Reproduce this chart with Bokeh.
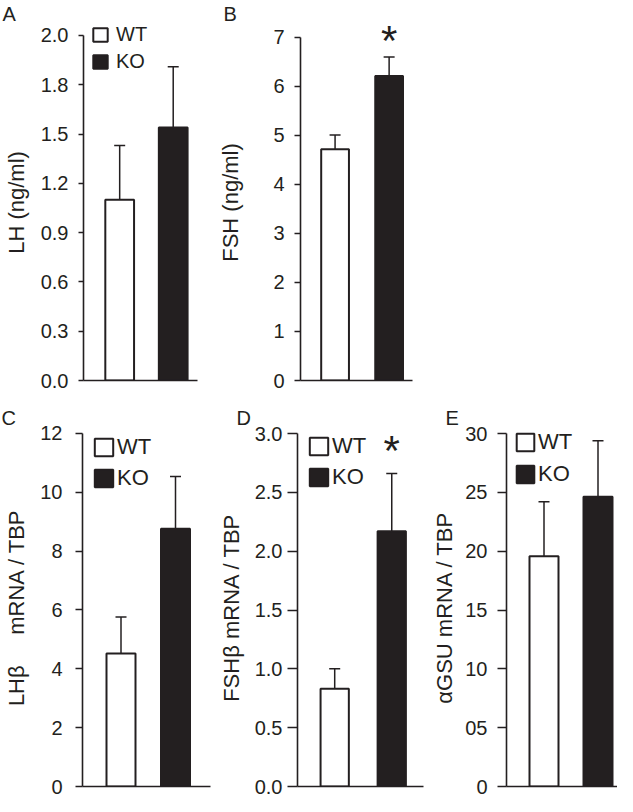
from bokeh.plotting import figure
from bokeh.models import (Range1d, Legend, LegendItem, Whisker, TeeHead,
                          FixedTicker, ColumnDataSource)
from bokeh.transform import factor_cmap
from bokeh.layouts import row, column
from bokeh.core.properties import value
from bokeh.embed import file_html
from bokeh.resources import INLINE

# ---------------- data ----------------
groups = ["WT", "KO"]

lh_mean = [1.10, 1.54]
lh_err = [0.33, 0.37]
fsh_mean = [4.72, 6.21]
fsh_err = [0.29, 0.39]
lhb_mean = [4.52, 8.76]
lhb_err = [1.24, 1.78]
fshb_mean = [0.83, 2.17]
fshb_err = [0.17, 0.49]
agsu_mean = [19.56, 24.62]
agsu_err = [4.64, 4.76]

sig_fsh = [False, True]
sig_fshb = [False, True]
no_sig = [False, False]

ticks_A = [0, 0.3, 0.6, 0.9, 1.2, 1.5, 1.8, 2.1]
labels_A = ["0.0", "0.3", "0.6", "0.9", "1.2", "1.5", "1.8", "2.0"]
ticks_B = [0, 1, 2, 3, 4, 5, 6, 7]
labels_B = ["0", "1", "2", "3", "4", "5", "6", "7"]
ticks_C = [0, 2, 4, 6, 8, 10, 12]
labels_C = ["0", "2", "4", "6", "8", "10", "12"]
ticks_D = [0, 0.5, 1.0, 1.5, 2.0, 2.5, 3.0]
labels_D = ["0.0", "0.5", "1.0", "1.5", "2.0", "2.5", "3.0"]
ticks_E = [0, 5, 10, 15, 20, 25, 30]
labels_E = ["0", "05", "10", "15", "20", "25", "30"]

NB = "\u00a0"
ylabel_A = "LH (ng/ml)"
ylabel_B = "FSH (ng/ml)"
ylabel_C = "LHβ" + NB * 5 + "mRNA / TBP"
ylabel_D = "FSHβ mRNA / TBP"
ylabel_E = "αGSU mRNA / TBP"

INK = "#231f20"
FONT = "Liberation Sans"
PALETTE = ["white", INK]

# ---------------- layout geometry (layout pixels) ----------------
GEO = {
    "A": dict(fig_left=0, fig_top=0, w=215, h=390, top_border=23, axis_x=82, frame_right=197, y0=380,
              ytop_px=34, wt_c=118.5, ko_c=172.5, bar_w=29, tick_out=5, lab_stand=10, axl_stand=9,
              letter_x=1, legend=(90, 27), glyph=(18, 17), pitch=26.5, leg_font=20, leg_stand=7,
              star_dy=0),
    "B": dict(fig_left=215, fig_top=0, w=402, h=390, top_border=23, axis_x=297, frame_right=412, y0=382,
              ytop_px=36, wt_c=332.5, ko_c=388, bar_w=28.5, tick_out=6, lab_stand=10, axl_stand=27,
              letter_x=220, legend=None, star_dy=-16),
    "C": dict(fig_left=0, fig_top=390, w=215, h=406, top_border=38, axis_x=82, frame_right=210, y0=787,
              ytop_px=433, wt_c=120.5, ko_c=175, bar_w=29, tick_out=7, lab_stand=13, axl_stand=8,
              letter_x=1, legend=(92, 439), glyph=(23, 22), pitch=30, leg_font=22, leg_stand=2,
              star_dy=0),
    "D": dict(fig_left=215, fig_top=390, w=210, h=406, top_border=38, axis_x=296, frame_right=423, y0=786,
              ytop_px=433, wt_c=333.5, ko_c=391, bar_w=28.5, tick_out=10, lab_stand=5, axl_stand=8,
              letter_x=235, legend=(306, 437), glyph=(23, 22), pitch=30, leg_font=22, leg_stand=2,
              star_dy=-23),
    "E": dict(fig_left=425, fig_top=390, w=192, h=406, top_border=38, axis_x=506, frame_right=617, y0=786,
              ytop_px=433, wt_c=543.5, ko_c=597.5, bar_w=29, tick_out=9, lab_stand=10, axl_stand=5,
              letter_x=445, legend=(514, 433), glyph=(22, 22), pitch=31, leg_font=22, leg_stand=2,
              star_dy=0),
}


def panel(letter, ylabel, means, errs, ticks, tlabels, sig):
    g = GEO[letter]
    unit = g["ko_c"] - g["wt_c"]
    xs = [i + 0.5 for i in range(len(groups))]
    x0 = 0.5 - (g["wt_c"] - g["axis_x"]) / unit
    x1 = x0 + (g["frame_right"] - g["axis_x"]) / unit
    frame_top = g["fig_top"] + g["top_border"]
    ppu = (g["y0"] - g["ytop_px"]) / ticks[-1]
    y1 = (g["y0"] - frame_top) / ppu

    p = figure(width=g["w"], height=g["h"], x_range=Range1d(x0, x1), y_range=Range1d(0, y1),
               output_backend="svg", toolbar_location=None, title=letter,
               min_border_left=g["axis_x"] - g["fig_left"],
               min_border_right=g["fig_left"] + g["w"] - g["frame_right"],
               min_border_top=g["top_border"],
               min_border_bottom=g["fig_top"] + g["h"] - g["y0"])
    p.outline_line_color = None
    p.grid.visible = False

    # panel letter as the figure title, pulled left of the axis
    p.title.align = "left"
    p.title.offset = g["letter_x"] - g["axis_x"]
    p.title.standoff = 0
    p.title.text_font = FONT
    p.title.text_font_size = "20px"
    p.title.text_font_style = "normal"
    p.title.text_color = INK

    src = ColumnDataSource(dict(x=xs, group=groups, top=means,
                                upper=[m + e for m, e in zip(means, errs)]))
    r = p.vbar(x="x", top="top", bottom=0, width=g["bar_w"] / unit, source=src,
               fill_color=factor_cmap("group", PALETTE, groups),
               line_color=INK, line_width=2)

    wh = Whisker(source=src, base="x", lower="top", upper="upper", dimension="height",
                 line_color=INK, line_width=1.5, lower_head=None,
                 upper_head=TeeHead(size=11, line_color=INK, line_width=1.5))
    p.add_layout(wh)

    sx = [x for x, s in zip(xs, sig) if s]
    sy = [m + e for m, e, s in zip(means, errs, sig) if s]
    if sx:
        p.text(x=sx, y=sy, text=["*"] * len(sx), text_align="center", text_baseline="alphabetic",
               text_font=value(FONT), text_font_size="42px", text_color=INK, y_offset=g["star_dy"])

    # y axis
    ya = p.yaxis[0]
    ya.ticker = FixedTicker(ticks=ticks)
    ya.major_label_overrides = {t: l for t, l in zip(ticks, tlabels)}
    ya.bounds = (0, ticks[-1])
    ya.minor_tick_line_color = None
    ya.major_tick_in = 0
    ya.major_tick_out = g["tick_out"]
    ya.major_tick_line_color = INK
    ya.major_tick_line_width = 1.5
    ya.axis_line_color = INK
    ya.axis_line_width = 1.6
    ya.major_label_standoff = g["lab_stand"]
    ya.major_label_text_font = FONT
    ya.major_label_text_font_size = "20px"
    ya.major_label_text_color = INK
    ya.axis_label = ylabel
    ya.axis_label_text_font = FONT
    ya.axis_label_text_font_size = "22px"
    ya.axis_label_text_font_style = "normal"
    ya.axis_label_text_color = INK
    ya.axis_label_standoff = g["axl_stand"]

    # x axis: plain baseline
    xa = p.xaxis[0]
    xa.ticker = FixedTicker(ticks=[])
    xa.minor_tick_line_color = None
    xa.major_tick_line_color = None
    xa.major_tick_out = 0
    xa.major_label_standoff = 0
    xa.major_label_text_font_size = "0px"
    xa.axis_line_color = INK
    xa.axis_line_width = 1.6

    if g["legend"] is not None:
        gx, gy = g["legend"]
        gw, gh = g["glyph"]
        item_h = max(gh, 1.117 * g["leg_font"])
        spacing = int(round(g["pitch"] - item_h))
        leg_top = gy - (item_h - gh) / 2
        leg_bottom = leg_top + 2 * item_h + spacing
        leg = Legend(items=[LegendItem(label=grp, renderers=[r], index=i) for i, grp in enumerate(groups)],
                     location=(gx - g["axis_x"], g["y0"] - leg_bottom),
                     padding=0, margin=0, spacing=spacing,
                     glyph_width=gw, glyph_height=gh, label_standoff=g["leg_stand"],
                     border_line_color=None, background_fill_alpha=0,
                     label_text_font=FONT, label_text_font_size=f"{g['leg_font']}px",
                     label_text_color=INK)
        p.add_layout(leg)
    return p


pA = panel("A", ylabel_A, lh_mean, lh_err, ticks_A, labels_A, no_sig)
pB = panel("B", ylabel_B, fsh_mean, fsh_err, ticks_B, labels_B, sig_fsh)
pC = panel("C", ylabel_C, lhb_mean, lhb_err, ticks_C, labels_C, no_sig)
pD = panel("D", ylabel_D, fshb_mean, fshb_err, ticks_D, labels_D, sig_fshb)
pE = panel("E", ylabel_E, agsu_mean, agsu_err, ticks_E, labels_E, no_sig)

layout = column(row(pA, pB), row(pC, pD, pE))
open("out.html", "w").write(file_html(layout, INLINE))
